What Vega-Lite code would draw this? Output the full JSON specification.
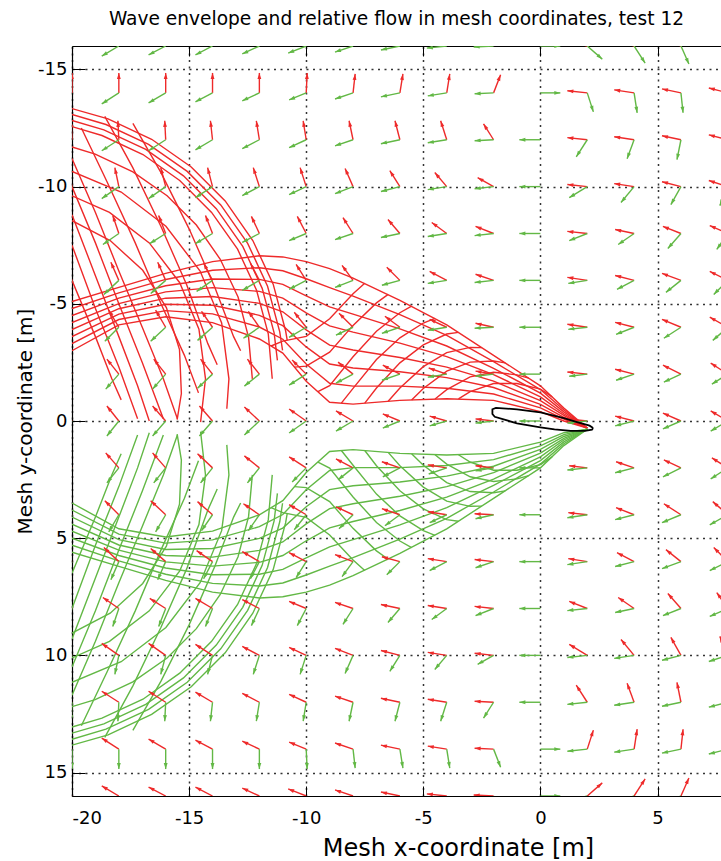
{
"$schema":"https://vega.github.io/schema/vega-lite/v6.json",
"width":649,"height":750,
"autosize":{"type":"none"},
"padding":{"left":72,"top":46,"right":0,"bottom":65},
"title":{"text":"Wave envelope and relative flow in mesh coordinates, test 12","font":"DejaVu Sans","fontSize":18.6,"fontWeight":"normal","color":"#000","anchor":"middle","offset":17},
"config":{"view":{"stroke":null},"font":"DejaVu Sans"},
"datasets":{
"f":[
{"x":-20,"y":-16,"ru":-0.04,"rv":-0.85,"gu":-0.73,"gv":0.43},{"x":-18,"y":-16,"ru":-0.04,"rv":-0.85,"gu":-0.73,"gv":0.43},{"x":-16,"y":-16,"ru":-0.04,"rv":-0.85,"gu":-0.73,"gv":0.38},{"x":-14,"y":-16,"ru":-0.04,"rv":-0.85,"gu":-0.73,"gv":0.38},{"x":-12,"y":-16,"ru":-0.04,"rv":-0.85,"gu":-0.73,"gv":0.34},{"x":-10,"y":-16,"ru":0,"rv":-0.85,"gu":-0.77,"gv":0.30},{"x":-8,"y":-16,"ru":0.04,"rv":-0.85,"gu":-0.77,"gv":0.26},{"x":-6,"y":-16,"ru":0.09,"rv":-0.85,"gu":-0.81,"gv":0.17},{"x":-4,"y":-16,"ru":0.13,"rv":-0.81,"gu":-0.85,"gv":0.09},{"x":-2,"y":-16,"ru":0.30,"rv":-0.77,"gu":-0.85,"gv":0.04},{"x":0,"y":-16,"ru":0.85,"rv":0,"gu":0.85,"gv":0},{"x":2,"y":-16,"ru":-0.81,"rv":-0.21,"gu":0.64,"gv":0.56},{"x":4,"y":-16,"ru":-0.77,"rv":-0.26,"gu":0.47,"gv":0.73},{"x":6,"y":-16,"ru":-0.77,"rv":-0.34,"gu":0.34,"gv":0.77},{"x":8,"y":-16,"ru":-0.73,"rv":-0.38,"gu":0.26,"gv":0.81},
{"x":-20,"y":-14,"ru":0,"rv":-0.85,"gu":-0.73,"gv":0.47},{"x":-18,"y":-14,"ru":0,"rv":-0.85,"gu":-0.73,"gv":0.47},{"x":-16,"y":-14,"ru":0,"rv":-0.85,"gu":-0.73,"gv":0.43},{"x":-14,"y":-14,"ru":0,"rv":-0.85,"gu":-0.73,"gv":0.38},{"x":-12,"y":-14,"ru":0,"rv":-0.85,"gu":-0.73,"gv":0.34},{"x":-10,"y":-14,"ru":0.04,"rv":-0.85,"gu":-0.73,"gv":0.30},{"x":-8,"y":-14,"ru":0.09,"rv":-0.81,"gu":-0.77,"gv":0.26},{"x":-6,"y":-14,"ru":0.13,"rv":-0.81,"gu":-0.81,"gv":0.17},{"x":-4,"y":-14,"ru":0.13,"rv":-0.81,"gu":-0.81,"gv":0.13},{"x":-2,"y":-14,"ru":0.30,"rv":-0.77,"gu":-0.81,"gv":0.04},{"x":0,"y":-14,"ru":0.85,"rv":0,"gu":0.85,"gv":0},{"x":2,"y":-14,"ru":-0.85,"rv":-0.09,"gu":0.26,"gv":0.81},{"x":4,"y":-14,"ru":-0.85,"rv":-0.13,"gu":0.13,"gv":0.85},{"x":6,"y":-14,"ru":-0.81,"rv":-0.17,"gu":0.09,"gv":0.85},{"x":8,"y":-14,"ru":-0.81,"rv":-0.21,"gu":0.04,"gv":0.85},
{"x":-20,"y":-12,"ru":-0.04,"rv":-0.81,"gu":-0.73,"gv":0.51},{"x":-18,"y":-12,"ru":-0.04,"rv":-0.81,"gu":-0.73,"gv":0.47},{"x":-16,"y":-12,"ru":-0.04,"rv":-0.81,"gu":-0.73,"gv":0.47},{"x":-14,"y":-12,"ru":-0.09,"rv":-0.81,"gu":-0.73,"gv":0.43},{"x":-12,"y":-12,"ru":-0.13,"rv":-0.81,"gu":-0.73,"gv":0.38},{"x":-10,"y":-12,"ru":-0.13,"rv":-0.81,"gu":-0.73,"gv":0.34},{"x":-8,"y":-12,"ru":-0.17,"rv":-0.81,"gu":-0.77,"gv":0.26},{"x":-6,"y":-12,"ru":-0.21,"rv":-0.81,"gu":-0.81,"gv":0.17},{"x":-4,"y":-12,"ru":-0.26,"rv":-0.81,"gu":-0.81,"gv":0.13},{"x":-2,"y":-12,"ru":-0.43,"rv":-0.68,"gu":-0.81,"gv":0.04},{"x":0,"y":-12,"ru":-0.9,"rv":0,"gu":-0.9,"gv":0},{"x":2,"y":-12,"ru":-0.85,"rv":-0.09,"gu":-0.47,"gv":0.73},{"x":4,"y":-12,"ru":-0.85,"rv":-0.13,"gu":-0.30,"gv":0.81},{"x":6,"y":-12,"ru":-0.81,"rv":-0.17,"gu":-0.17,"gv":0.85},{"x":8,"y":-12,"ru":-0.81,"rv":-0.21,"gu":-0.13,"gv":0.85},
{"x":-20,"y":-10,"ru":-0.17,"rv":-0.81,"gu":-0.73,"gv":0.56},{"x":-18,"y":-10,"ru":-0.17,"rv":-0.81,"gu":-0.73,"gv":0.51},{"x":-16,"y":-10,"ru":-0.21,"rv":-0.81,"gu":-0.73,"gv":0.51},{"x":-14,"y":-10,"ru":-0.21,"rv":-0.81,"gu":-0.73,"gv":0.47},{"x":-12,"y":-10,"ru":-0.26,"rv":-0.81,"gu":-0.73,"gv":0.38},{"x":-10,"y":-10,"ru":-0.26,"rv":-0.81,"gu":-0.73,"gv":0.34},{"x":-8,"y":-10,"ru":-0.34,"rv":-0.77,"gu":-0.77,"gv":0.30},{"x":-6,"y":-10,"ru":-0.43,"rv":-0.68,"gu":-0.81,"gv":0.21},{"x":-4,"y":-10,"ru":-0.51,"rv":-0.60,"gu":-0.81,"gv":0.13},{"x":-2,"y":-10,"ru":-0.68,"rv":-0.38,"gu":-0.81,"gv":0.09},{"x":0,"y":-10,"ru":-0.9,"rv":0,"gu":-0.9,"gv":0},{"x":2,"y":-10,"ru":-0.85,"rv":-0.09,"gu":-0.77,"gv":0.47},{"x":4,"y":-10,"ru":-0.85,"rv":-0.13,"gu":-0.56,"gv":0.68},{"x":6,"y":-10,"ru":-0.81,"rv":-0.21,"gu":-0.43,"gv":0.77},{"x":8,"y":-10,"ru":-0.81,"rv":-0.26,"gu":-0.34,"gv":0.81},
{"x":-20,"y":-8,"ru":-0.26,"rv":-0.77,"gu":-0.68,"gv":0.51},{"x":-18,"y":-8,"ru":-0.26,"rv":-0.77,"gu":-0.68,"gv":0.47},{"x":-16,"y":-8,"ru":-0.30,"rv":-0.77,"gu":-0.68,"gv":0.43},{"x":-14,"y":-8,"ru":-0.30,"rv":-0.77,"gu":-0.73,"gv":0.43},{"x":-12,"y":-8,"ru":-0.34,"rv":-0.73,"gu":-0.73,"gv":0.38},{"x":-10,"y":-8,"ru":-0.38,"rv":-0.73,"gu":-0.73,"gv":0.30},{"x":-8,"y":-8,"ru":-0.43,"rv":-0.68,"gu":-0.77,"gv":0.26},{"x":-6,"y":-8,"ru":-0.51,"rv":-0.60,"gu":-0.81,"gv":0.17},{"x":-4,"y":-8,"ru":-0.64,"rv":-0.47,"gu":-0.81,"gv":0.13},{"x":-2,"y":-8,"ru":-0.77,"rv":-0.30,"gu":-0.81,"gv":0.09},{"x":0,"y":-8,"ru":-0.9,"rv":0,"gu":-0.9,"gv":0},{"x":2,"y":-8,"ru":-0.85,"rv":-0.09,"gu":-0.77,"gv":0.30},{"x":4,"y":-8,"ru":-0.81,"rv":-0.17,"gu":-0.68,"gv":0.47},{"x":6,"y":-8,"ru":-0.77,"rv":-0.30,"gu":-0.56,"gv":0.64},{"x":8,"y":-8,"ru":-0.77,"rv":-0.34,"gu":-0.47,"gv":0.68},
{"x":-20,"y":-6,"ru":-0.34,"rv":-0.77,"gu":-0.64,"gv":0.60},{"x":-18,"y":-6,"ru":-0.34,"rv":-0.77,"gu":-0.64,"gv":0.60},{"x":-16,"y":-6,"ru":-0.34,"rv":-0.77,"gu":-0.64,"gv":0.56},{"x":-14,"y":-6,"ru":-0.38,"rv":-0.73,"gu":-0.68,"gv":0.47},{"x":-12,"y":-6,"ru":-0.38,"rv":-0.73,"gu":-0.73,"gv":0.43},{"x":-10,"y":-6,"ru":-0.43,"rv":-0.68,"gu":-0.73,"gv":0.38},{"x":-8,"y":-6,"ru":-0.47,"rv":-0.64,"gu":-0.77,"gv":0.30},{"x":-6,"y":-6,"ru":-0.56,"rv":-0.56,"gu":-0.77,"gv":0.21},{"x":-4,"y":-6,"ru":-0.73,"rv":-0.38,"gu":-0.81,"gv":0.13},{"x":-2,"y":-6,"ru":-0.77,"rv":-0.26,"gu":-0.81,"gv":0.09},{"x":0,"y":-6,"ru":-0.9,"rv":0,"gu":-0.9,"gv":0},{"x":2,"y":-6,"ru":-0.85,"rv":-0.13,"gu":-0.81,"gv":0.13},{"x":4,"y":-6,"ru":-0.81,"rv":-0.21,"gu":-0.73,"gv":0.38},{"x":6,"y":-6,"ru":-0.81,"rv":-0.30,"gu":-0.64,"gv":0.51},{"x":8,"y":-6,"ru":-0.77,"rv":-0.38,"gu":-0.60,"gv":0.60},
{"x":-20,"y":-4,"ru":-0.43,"rv":-0.73,"gu":-0.60,"gv":0.60},{"x":-18,"y":-4,"ru":-0.43,"rv":-0.73,"gu":-0.60,"gv":0.60},{"x":-16,"y":-4,"ru":-0.43,"rv":-0.73,"gu":-0.64,"gv":0.60},{"x":-14,"y":-4,"ru":-0.47,"rv":-0.68,"gu":-0.64,"gv":0.56},{"x":-12,"y":-4,"ru":-0.47,"rv":-0.68,"gu":-0.68,"gv":0.47},{"x":-10,"y":-4,"ru":-0.51,"rv":-0.64,"gu":-0.73,"gv":0.43},{"x":-8,"y":-4,"ru":-0.60,"rv":-0.60,"gu":-0.73,"gv":0.34},{"x":-6,"y":-4,"ru":-0.64,"rv":-0.47,"gu":-0.77,"gv":0.26},{"x":-4,"y":-4,"ru":-0.73,"rv":-0.34,"gu":-0.81,"gv":0.13},{"x":-2,"y":-4,"ru":-0.77,"rv":-0.17,"gu":-0.81,"gv":0.04},{"x":0,"y":-4,"ru":-0.9,"rv":0,"gu":-0.9,"gv":0},{"x":2,"y":-4,"ru":-0.85,"rv":-0.13,"gu":-0.81,"gv":0.09},{"x":4,"y":-4,"ru":-0.81,"rv":-0.21,"gu":-0.77,"gv":0.30},{"x":6,"y":-4,"ru":-0.81,"rv":-0.34,"gu":-0.73,"gv":0.47},{"x":8,"y":-4,"ru":-0.77,"rv":-0.43,"gu":-0.64,"gv":0.56},
{"x":-20,"y":-2,"ru":-0.47,"rv":-0.68,"gu":-0.56,"gv":0.64},{"x":-18,"y":-2,"ru":-0.51,"rv":-0.64,"gu":-0.56,"gv":0.64},{"x":-16,"y":-2,"ru":-0.51,"rv":-0.64,"gu":-0.56,"gv":0.64},{"x":-14,"y":-2,"ru":-0.51,"rv":-0.64,"gu":-0.64,"gv":0.60},{"x":-12,"y":-2,"ru":-0.51,"rv":-0.64,"gu":-0.64,"gv":0.51},{"x":-10,"y":-2,"ru":-0.60,"rv":-0.60,"gu":-0.73,"gv":0.47},{"x":-8,"y":-2,"ru":-0.64,"rv":-0.51,"gu":-0.73,"gv":0.38},{"x":-6,"y":-2,"ru":-0.73,"rv":-0.38,"gu":-0.77,"gv":0.26},{"x":-4,"y":-2,"ru":-0.77,"rv":-0.26,"gu":-0.81,"gv":0.13},{"x":-2,"y":-2,"ru":-0.77,"rv":-0.13,"gu":-0.77,"gv":0.09},{"x":0,"y":-2,"ru":-0.9,"rv":0,"gu":-0.9,"gv":0},{"x":2,"y":-2,"ru":-0.85,"rv":-0.09,"gu":-0.77,"gv":0.09},{"x":4,"y":-2,"ru":-0.81,"rv":-0.21,"gu":-0.77,"gv":0.26},{"x":6,"y":-2,"ru":-0.77,"rv":-0.38,"gu":-0.73,"gv":0.34},{"x":8,"y":-2,"ru":-0.73,"rv":-0.47,"gu":-0.68,"gv":0.43},
{"x":-20,"y":0,"ru":-0.51,"rv":-0.64,"gu":-0.51,"gv":0.64},{"x":-18,"y":0,"ru":-0.51,"rv":-0.64,"gu":-0.51,"gv":0.64},{"x":-16,"y":0,"ru":-0.56,"rv":-0.64,"gu":-0.56,"gv":0.64},{"x":-14,"y":0,"ru":-0.56,"rv":-0.64,"gu":-0.56,"gv":0.64},{"x":-12,"y":0,"ru":-0.64,"rv":-0.60,"gu":-0.64,"gv":0.60},{"x":-10,"y":0,"ru":-0.73,"rv":-0.51,"gu":-0.73,"gv":0.51},{"x":-8,"y":0,"ru":-0.73,"rv":-0.43,"gu":-0.73,"gv":0.43},{"x":-6,"y":0,"ru":-0.73,"rv":-0.30,"gu":-0.73,"gv":0.30},{"x":-4,"y":0,"ru":-0.73,"rv":-0.21,"gu":-0.73,"gv":0.21},{"x":-2,"y":0,"ru":-0.77,"rv":-0.09,"gu":-0.77,"gv":0.09},{"x":0,"y":0,"ru":-0.9,"rv":0,"gu":-0.9,"gv":0},{"x":2,"y":0,"ru":-0.85,"rv":-0.09,"gu":-0.85,"gv":0.09},{"x":4,"y":0,"ru":-0.81,"rv":-0.21,"gu":-0.81,"gv":0.21},{"x":6,"y":0,"ru":-0.77,"rv":-0.34,"gu":-0.77,"gv":0.34},{"x":8,"y":0,"ru":-0.73,"rv":-0.43,"gu":-0.73,"gv":0.43},
{"x":-20,"y":2,"ru":-0.56,"rv":-0.64,"gu":-0.47,"gv":0.68},{"x":-18,"y":2,"ru":-0.56,"rv":-0.64,"gu":-0.51,"gv":0.64},{"x":-16,"y":2,"ru":-0.56,"rv":-0.64,"gu":-0.51,"gv":0.64},{"x":-14,"y":2,"ru":-0.64,"rv":-0.60,"gu":-0.51,"gv":0.64},{"x":-12,"y":2,"ru":-0.64,"rv":-0.51,"gu":-0.51,"gv":0.64},{"x":-10,"y":2,"ru":-0.73,"rv":-0.47,"gu":-0.60,"gv":0.60},{"x":-8,"y":2,"ru":-0.73,"rv":-0.38,"gu":-0.64,"gv":0.51},{"x":-6,"y":2,"ru":-0.77,"rv":-0.26,"gu":-0.73,"gv":0.38},{"x":-4,"y":2,"ru":-0.81,"rv":-0.13,"gu":-0.77,"gv":0.26},{"x":-2,"y":2,"ru":-0.77,"rv":-0.09,"gu":-0.77,"gv":0.13},{"x":0,"y":2,"ru":-0.9,"rv":0,"gu":-0.9,"gv":0},{"x":2,"y":2,"ru":-0.77,"rv":-0.09,"gu":-0.85,"gv":0.09},{"x":4,"y":2,"ru":-0.77,"rv":-0.26,"gu":-0.81,"gv":0.21},{"x":6,"y":2,"ru":-0.73,"rv":-0.34,"gu":-0.77,"gv":0.38},{"x":8,"y":2,"ru":-0.68,"rv":-0.43,"gu":-0.73,"gv":0.47},
{"x":-20,"y":4,"ru":-0.60,"rv":-0.60,"gu":-0.43,"gv":0.73},{"x":-18,"y":4,"ru":-0.60,"rv":-0.60,"gu":-0.43,"gv":0.73},{"x":-16,"y":4,"ru":-0.64,"rv":-0.60,"gu":-0.43,"gv":0.73},{"x":-14,"y":4,"ru":-0.64,"rv":-0.56,"gu":-0.47,"gv":0.68},{"x":-12,"y":4,"ru":-0.68,"rv":-0.47,"gu":-0.47,"gv":0.68},{"x":-10,"y":4,"ru":-0.73,"rv":-0.43,"gu":-0.51,"gv":0.64},{"x":-8,"y":4,"ru":-0.73,"rv":-0.34,"gu":-0.60,"gv":0.60},{"x":-6,"y":4,"ru":-0.77,"rv":-0.26,"gu":-0.64,"gv":0.47},{"x":-4,"y":4,"ru":-0.81,"rv":-0.13,"gu":-0.73,"gv":0.34},{"x":-2,"y":4,"ru":-0.81,"rv":-0.04,"gu":-0.77,"gv":0.17},{"x":0,"y":4,"ru":-0.9,"rv":0,"gu":-0.9,"gv":0},{"x":2,"y":4,"ru":-0.81,"rv":-0.09,"gu":-0.85,"gv":0.13},{"x":4,"y":4,"ru":-0.77,"rv":-0.30,"gu":-0.81,"gv":0.21},{"x":6,"y":4,"ru":-0.73,"rv":-0.47,"gu":-0.81,"gv":0.34},{"x":8,"y":4,"ru":-0.64,"rv":-0.56,"gu":-0.77,"gv":0.43},
{"x":-20,"y":6,"ru":-0.64,"rv":-0.60,"gu":-0.34,"gv":0.77},{"x":-18,"y":6,"ru":-0.64,"rv":-0.60,"gu":-0.34,"gv":0.77},{"x":-16,"y":6,"ru":-0.64,"rv":-0.56,"gu":-0.34,"gv":0.77},{"x":-14,"y":6,"ru":-0.68,"rv":-0.47,"gu":-0.38,"gv":0.73},{"x":-12,"y":6,"ru":-0.73,"rv":-0.43,"gu":-0.38,"gv":0.73},{"x":-10,"y":6,"ru":-0.73,"rv":-0.38,"gu":-0.43,"gv":0.68},{"x":-8,"y":6,"ru":-0.77,"rv":-0.30,"gu":-0.47,"gv":0.64},{"x":-6,"y":6,"ru":-0.77,"rv":-0.21,"gu":-0.56,"gv":0.56},{"x":-4,"y":6,"ru":-0.81,"rv":-0.13,"gu":-0.73,"gv":0.38},{"x":-2,"y":6,"ru":-0.81,"rv":-0.09,"gu":-0.77,"gv":0.26},{"x":0,"y":6,"ru":-0.9,"rv":0,"gu":-0.9,"gv":0},{"x":2,"y":6,"ru":-0.81,"rv":-0.13,"gu":-0.85,"gv":0.13},{"x":4,"y":6,"ru":-0.73,"rv":-0.38,"gu":-0.81,"gv":0.21},{"x":6,"y":6,"ru":-0.64,"rv":-0.51,"gu":-0.81,"gv":0.30},{"x":8,"y":6,"ru":-0.60,"rv":-0.60,"gu":-0.77,"gv":0.38},
{"x":-20,"y":8,"ru":-0.68,"rv":-0.51,"gu":-0.26,"gv":0.77},{"x":-18,"y":8,"ru":-0.68,"rv":-0.47,"gu":-0.26,"gv":0.77},{"x":-16,"y":8,"ru":-0.68,"rv":-0.43,"gu":-0.30,"gv":0.77},{"x":-14,"y":8,"ru":-0.73,"rv":-0.43,"gu":-0.30,"gv":0.77},{"x":-12,"y":8,"ru":-0.73,"rv":-0.38,"gu":-0.34,"gv":0.73},{"x":-10,"y":8,"ru":-0.73,"rv":-0.30,"gu":-0.38,"gv":0.73},{"x":-8,"y":8,"ru":-0.77,"rv":-0.26,"gu":-0.43,"gv":0.68},{"x":-6,"y":8,"ru":-0.81,"rv":-0.17,"gu":-0.51,"gv":0.60},{"x":-4,"y":8,"ru":-0.81,"rv":-0.13,"gu":-0.64,"gv":0.47},{"x":-2,"y":8,"ru":-0.81,"rv":-0.09,"gu":-0.77,"gv":0.30},{"x":0,"y":8,"ru":-0.9,"rv":0,"gu":-0.9,"gv":0},{"x":2,"y":8,"ru":-0.77,"rv":-0.30,"gu":-0.85,"gv":0.09},{"x":4,"y":8,"ru":-0.68,"rv":-0.47,"gu":-0.81,"gv":0.17},{"x":6,"y":8,"ru":-0.56,"rv":-0.64,"gu":-0.77,"gv":0.30},{"x":8,"y":8,"ru":-0.47,"rv":-0.68,"gu":-0.77,"gv":0.34},
{"x":-20,"y":10,"ru":-0.73,"rv":-0.56,"gu":-0.17,"gv":0.81},{"x":-18,"y":10,"ru":-0.73,"rv":-0.51,"gu":-0.17,"gv":0.81},{"x":-16,"y":10,"ru":-0.73,"rv":-0.51,"gu":-0.21,"gv":0.81},{"x":-14,"y":10,"ru":-0.73,"rv":-0.47,"gu":-0.21,"gv":0.81},{"x":-12,"y":10,"ru":-0.73,"rv":-0.38,"gu":-0.26,"gv":0.81},{"x":-10,"y":10,"ru":-0.73,"rv":-0.34,"gu":-0.26,"gv":0.81},{"x":-8,"y":10,"ru":-0.77,"rv":-0.30,"gu":-0.34,"gv":0.77},{"x":-6,"y":10,"ru":-0.81,"rv":-0.21,"gu":-0.43,"gv":0.68},{"x":-4,"y":10,"ru":-0.81,"rv":-0.13,"gu":-0.51,"gv":0.60},{"x":-2,"y":10,"ru":-0.81,"rv":-0.09,"gu":-0.68,"gv":0.38},{"x":0,"y":10,"ru":-0.9,"rv":0,"gu":-0.9,"gv":0},{"x":2,"y":10,"ru":-0.77,"rv":-0.47,"gu":-0.85,"gv":0.09},{"x":4,"y":10,"ru":-0.56,"rv":-0.68,"gu":-0.85,"gv":0.13},{"x":6,"y":10,"ru":-0.43,"rv":-0.77,"gu":-0.81,"gv":0.21},{"x":8,"y":10,"ru":-0.34,"rv":-0.81,"gu":-0.81,"gv":0.26},
{"x":-20,"y":12,"ru":-0.73,"rv":-0.51,"gu":-0.04,"gv":0.81},{"x":-18,"y":12,"ru":-0.73,"rv":-0.47,"gu":-0.04,"gv":0.81},{"x":-16,"y":12,"ru":-0.73,"rv":-0.47,"gu":-0.04,"gv":0.81},{"x":-14,"y":12,"ru":-0.73,"rv":-0.43,"gu":-0.09,"gv":0.81},{"x":-12,"y":12,"ru":-0.73,"rv":-0.38,"gu":-0.13,"gv":0.81},{"x":-10,"y":12,"ru":-0.73,"rv":-0.34,"gu":-0.13,"gv":0.81},{"x":-8,"y":12,"ru":-0.77,"rv":-0.26,"gu":-0.17,"gv":0.81},{"x":-6,"y":12,"ru":-0.81,"rv":-0.17,"gu":-0.21,"gv":0.81},{"x":-4,"y":12,"ru":-0.81,"rv":-0.13,"gu":-0.26,"gv":0.81},{"x":-2,"y":12,"ru":-0.81,"rv":-0.04,"gu":-0.43,"gv":0.68},{"x":0,"y":12,"ru":-0.9,"rv":0,"gu":-0.9,"gv":0},{"x":2,"y":12,"ru":-0.47,"rv":-0.73,"gu":-0.85,"gv":0.09},{"x":4,"y":12,"ru":-0.30,"rv":-0.81,"gu":-0.85,"gv":0.13},{"x":6,"y":12,"ru":-0.17,"rv":-0.85,"gu":-0.81,"gv":0.17},{"x":8,"y":12,"ru":-0.13,"rv":-0.85,"gu":-0.81,"gv":0.21},
{"x":-20,"y":14,"ru":-0.73,"rv":-0.47,"gu":0,"gv":0.85},{"x":-18,"y":14,"ru":-0.73,"rv":-0.47,"gu":0,"gv":0.85},{"x":-16,"y":14,"ru":-0.73,"rv":-0.43,"gu":0,"gv":0.85},{"x":-14,"y":14,"ru":-0.73,"rv":-0.38,"gu":0,"gv":0.85},{"x":-12,"y":14,"ru":-0.73,"rv":-0.34,"gu":0,"gv":0.85},{"x":-10,"y":14,"ru":-0.73,"rv":-0.30,"gu":0.04,"gv":0.85},{"x":-8,"y":14,"ru":-0.77,"rv":-0.26,"gu":0.09,"gv":0.81},{"x":-6,"y":14,"ru":-0.81,"rv":-0.17,"gu":0.13,"gv":0.81},{"x":-4,"y":14,"ru":-0.81,"rv":-0.13,"gu":0.13,"gv":0.81},{"x":-2,"y":14,"ru":-0.81,"rv":-0.04,"gu":0.30,"gv":0.77},{"x":0,"y":14,"ru":0.85,"rv":0,"gu":0.85,"gv":0},{"x":2,"y":14,"ru":0.26,"rv":-0.81,"gu":-0.85,"gv":0.09},{"x":4,"y":14,"ru":0.13,"rv":-0.85,"gu":-0.85,"gv":0.13},{"x":6,"y":14,"ru":0.09,"rv":-0.85,"gu":-0.81,"gv":0.17},{"x":8,"y":14,"ru":0.04,"rv":-0.85,"gu":-0.81,"gv":0.21},
{"x":-20,"y":16,"ru":-0.73,"rv":-0.43,"gu":-0.04,"gv":0.85},{"x":-18,"y":16,"ru":-0.73,"rv":-0.43,"gu":-0.04,"gv":0.85},{"x":-16,"y":16,"ru":-0.73,"rv":-0.38,"gu":-0.04,"gv":0.85},{"x":-14,"y":16,"ru":-0.73,"rv":-0.38,"gu":-0.04,"gv":0.85},{"x":-12,"y":16,"ru":-0.73,"rv":-0.34,"gu":-0.04,"gv":0.85},{"x":-10,"y":16,"ru":-0.77,"rv":-0.30,"gu":0,"gv":0.85},{"x":-8,"y":16,"ru":-0.77,"rv":-0.26,"gu":0.04,"gv":0.85},{"x":-6,"y":16,"ru":-0.81,"rv":-0.17,"gu":0.09,"gv":0.85},{"x":-4,"y":16,"ru":-0.85,"rv":-0.09,"gu":0.13,"gv":0.81},{"x":-2,"y":16,"ru":-0.85,"rv":-0.04,"gu":0.30,"gv":0.77},{"x":0,"y":16,"ru":0.85,"rv":0,"gu":0.85,"gv":0},{"x":2,"y":16,"ru":0.64,"rv":-0.56,"gu":-0.81,"gv":0.21},{"x":4,"y":16,"ru":0.47,"rv":-0.73,"gu":-0.77,"gv":0.26},{"x":6,"y":16,"ru":0.34,"rv":-0.77,"gu":-0.77,"gv":0.34},{"x":8,"y":16,"ru":0.26,"rv":-0.81,"gu":-0.73,"gv":0.38}
],
"m":[
{"id":"rL0","c":"r","x":2,"y":0.3},{"id":"rL0","c":"r","x":1,"y":0},{"id":"rL0","c":"r","x":0,"y":-0.4},{"id":"rL0","c":"r","x":-2,"y":-0.88},{"id":"rL0","c":"r","x":-4,"y":-0.95},{"id":"rL0","c":"r","x":-6,"y":-0.88},{"id":"rL0","c":"r","x":-8,"y":-0.72},{"id":"rL0","c":"r","x":-9,"y":-0.8},{"id":"rL0","c":"r","x":-10,"y":-1.7},{"id":"rL0","c":"r","x":-11,"y":-2.9},{"id":"rL0","c":"r","x":-12,"y":-3.5},{"id":"rL0","c":"r","x":-14,"y":-4.2},{"id":"rL0","c":"r","x":-16,"y":-4.45},{"id":"rL0","c":"r","x":-18,"y":-4.1},{"id":"rL0","c":"r","x":-20,"y":-3.0},
{"id":"rL1","c":"r","x":2,"y":0.3},{"id":"rL1","c":"r","x":1,"y":-0.08},{"id":"rL1","c":"r","x":0,"y":-0.56},{"id":"rL1","c":"r","x":-2,"y":-1.15},{"id":"rL1","c":"r","x":-4,"y":-1.4},{"id":"rL1","c":"r","x":-6,"y":-1.49},{"id":"rL1","c":"r","x":-8,"y":-1.49},{"id":"rL1","c":"r","x":-9,"y":-1.61},{"id":"rL1","c":"r","x":-10,"y":-2.43},{"id":"rL1","c":"r","x":-11,"y":-3.49},{"id":"rL1","c":"r","x":-12,"y":-4.01},{"id":"rL1","c":"r","x":-14,"y":-4.57},{"id":"rL1","c":"r","x":-16,"y":-4.71},{"id":"rL1","c":"r","x":-18,"y":-4.33},{"id":"rL1","c":"r","x":-20,"y":-3.3},
{"id":"rL2","c":"r","x":2,"y":0.3},{"id":"rL2","c":"r","x":1,"y":-0.16},{"id":"rL2","c":"r","x":0,"y":-0.71},{"id":"rL2","c":"r","x":-2,"y":-1.43},{"id":"rL2","c":"r","x":-4,"y":-1.85},{"id":"rL2","c":"r","x":-6,"y":-2.1},{"id":"rL2","c":"r","x":-8,"y":-2.26},{"id":"rL2","c":"r","x":-9,"y":-2.43},{"id":"rL2","c":"r","x":-10,"y":-3.16},{"id":"rL2","c":"r","x":-11,"y":-4.07},{"id":"rL2","c":"r","x":-12,"y":-4.51},{"id":"rL2","c":"r","x":-14,"y":-4.94},{"id":"rL2","c":"r","x":-16,"y":-4.98},{"id":"rL2","c":"r","x":-18,"y":-4.56},{"id":"rL2","c":"r","x":-20,"y":-3.6},
{"id":"rL3","c":"r","x":2,"y":0.3},{"id":"rL3","c":"r","x":1,"y":-0.24},{"id":"rL3","c":"r","x":0,"y":-0.87},{"id":"rL3","c":"r","x":-2,"y":-1.7},{"id":"rL3","c":"r","x":-4,"y":-2.3},{"id":"rL3","c":"r","x":-6,"y":-2.71},{"id":"rL3","c":"r","x":-8,"y":-3.03},{"id":"rL3","c":"r","x":-9,"y":-3.24},{"id":"rL3","c":"r","x":-10,"y":-3.89},{"id":"rL3","c":"r","x":-11,"y":-4.66},{"id":"rL3","c":"r","x":-12,"y":-5.02},{"id":"rL3","c":"r","x":-14,"y":-5.31},{"id":"rL3","c":"r","x":-16,"y":-5.24},{"id":"rL3","c":"r","x":-18,"y":-4.79},{"id":"rL3","c":"r","x":-20,"y":-3.9},
{"id":"rL4","c":"r","x":2,"y":0.3},{"id":"rL4","c":"r","x":1,"y":-0.31},{"id":"rL4","c":"r","x":0,"y":-1.03},{"id":"rL4","c":"r","x":-2,"y":-1.98},{"id":"rL4","c":"r","x":-4,"y":-2.75},{"id":"rL4","c":"r","x":-6,"y":-3.32},{"id":"rL4","c":"r","x":-8,"y":-3.79},{"id":"rL4","c":"r","x":-9,"y":-4.06},{"id":"rL4","c":"r","x":-10,"y":-4.61},{"id":"rL4","c":"r","x":-11,"y":-5.24},{"id":"rL4","c":"r","x":-12,"y":-5.53},{"id":"rL4","c":"r","x":-14,"y":-5.69},{"id":"rL4","c":"r","x":-16,"y":-5.51},{"id":"rL4","c":"r","x":-18,"y":-5.01},{"id":"rL4","c":"r","x":-20,"y":-4.2},
{"id":"rL5","c":"r","x":2,"y":0.3},{"id":"rL5","c":"r","x":1,"y":-0.39},{"id":"rL5","c":"r","x":0,"y":-1.19},{"id":"rL5","c":"r","x":-2,"y":-2.25},{"id":"rL5","c":"r","x":-4,"y":-3.2},{"id":"rL5","c":"r","x":-6,"y":-3.93},{"id":"rL5","c":"r","x":-8,"y":-4.56},{"id":"rL5","c":"r","x":-9,"y":-4.87},{"id":"rL5","c":"r","x":-10,"y":-5.34},{"id":"rL5","c":"r","x":-11,"y":-5.83},{"id":"rL5","c":"r","x":-12,"y":-6.04},{"id":"rL5","c":"r","x":-14,"y":-6.06},{"id":"rL5","c":"r","x":-16,"y":-5.77},{"id":"rL5","c":"r","x":-18,"y":-5.24},{"id":"rL5","c":"r","x":-20,"y":-4.5},
{"id":"rL6","c":"r","x":2,"y":0.3},{"id":"rL6","c":"r","x":1,"y":-0.47},{"id":"rL6","c":"r","x":0,"y":-1.34},{"id":"rL6","c":"r","x":-2,"y":-2.53},{"id":"rL6","c":"r","x":-4,"y":-3.65},{"id":"rL6","c":"r","x":-6,"y":-4.54},{"id":"rL6","c":"r","x":-8,"y":-5.33},{"id":"rL6","c":"r","x":-9,"y":-5.69},{"id":"rL6","c":"r","x":-10,"y":-6.07},{"id":"rL6","c":"r","x":-11,"y":-6.41},{"id":"rL6","c":"r","x":-12,"y":-6.54},{"id":"rL6","c":"r","x":-14,"y":-6.43},{"id":"rL6","c":"r","x":-16,"y":-6.04},{"id":"rL6","c":"r","x":-18,"y":-5.47},{"id":"rL6","c":"r","x":-20,"y":-4.8},
{"id":"rL7","c":"r","x":2,"y":0.3},{"id":"rL7","c":"r","x":1,"y":-0.55},{"id":"rL7","c":"r","x":0,"y":-1.5},{"id":"rL7","c":"r","x":-2,"y":-2.8},{"id":"rL7","c":"r","x":-4,"y":-4.1},{"id":"rL7","c":"r","x":-6,"y":-5.15},{"id":"rL7","c":"r","x":-8,"y":-6.1},{"id":"rL7","c":"r","x":-9,"y":-6.5},{"id":"rL7","c":"r","x":-10,"y":-6.8},{"id":"rL7","c":"r","x":-11,"y":-7.0},{"id":"rL7","c":"r","x":-12,"y":-7.05},{"id":"rL7","c":"r","x":-14,"y":-6.8},{"id":"rL7","c":"r","x":-16,"y":-6.3},{"id":"rL7","c":"r","x":-18,"y":-5.7},{"id":"rL7","c":"r","x":-20,"y":-5.1},
{"id":"rDa","c":"r","x":0.5,"y":-1.03},{"id":"rDa","c":"r","x":0,"y":-1.36},{"id":"rDa","c":"r","x":-1,"y":-1.6},{"id":"rDa","c":"r","x":-2,"y":-1.6},{"id":"rDa","c":"r","x":-3,"y":-1.25},{"id":"rDa","c":"r","x":-3.5,"y":-0.94},
{"id":"rDb","c":"r","x":-0.5,"y":-1.83},{"id":"rDb","c":"r","x":-1,"y":-1.97},{"id":"rDb","c":"r","x":-2,"y":-2.08},{"id":"rDb","c":"r","x":-3,"y":-1.88},{"id":"rDb","c":"r","x":-4,"y":-1.34},{"id":"rDb","c":"r","x":-4.5,"y":-0.94},
{"id":"rDc","c":"r","x":-1.5,"y":-2.48},{"id":"rDc","c":"r","x":-2,"y":-2.56},{"id":"rDc","c":"r","x":-3,"y":-2.51},{"id":"rDc","c":"r","x":-4,"y":-2.13},{"id":"rDc","c":"r","x":-5,"y":-1.39},{"id":"rDc","c":"r","x":-5.5,"y":-0.9},
{"id":"rDd","c":"r","x":-2.5,"y":-3.13},{"id":"rDd","c":"r","x":-3,"y":-3.14},{"id":"rDd","c":"r","x":-4,"y":-2.92},{"id":"rDd","c":"r","x":-5,"y":-2.32},{"id":"rDd","c":"r","x":-6,"y":-1.41},{"id":"rDd","c":"r","x":-6.5,"y":-0.84},
{"id":"rDe","c":"r","x":-3.5,"y":-3.78},{"id":"rDe","c":"r","x":-4,"y":-3.71},{"id":"rDe","c":"r","x":-5,"y":-3.25},{"id":"rDe","c":"r","x":-6,"y":-2.48},{"id":"rDe","c":"r","x":-7,"y":-1.41},{"id":"rDe","c":"r","x":-7.5,"y":-0.76},
{"id":"rDf","c":"r","x":-4.5,"y":-4.38},{"id":"rDf","c":"r","x":-5,"y":-4.18},{"id":"rDf","c":"r","x":-6,"y":-3.55},{"id":"rDf","c":"r","x":-7,"y":-2.62},{"id":"rDf","c":"r","x":-8,"y":-1.39},{"id":"rDf","c":"r","x":-8.5,"y":-0.76},
{"id":"rDg","c":"r","x":-5.5,"y":-4.9},{"id":"rDg","c":"r","x":-6,"y":-4.62},{"id":"rDg","c":"r","x":-7,"y":-3.83},{"id":"rDg","c":"r","x":-8,"y":-2.74},{"id":"rDg","c":"r","x":-9,"y":-1.51},{"id":"rDg","c":"r","x":-9.5,"y":-1.25},
{"id":"rDh","c":"r","x":-6.5,"y":-5.4},{"id":"rDh","c":"r","x":-7,"y":-5.04},{"id":"rDh","c":"r","x":-8,"y":-4.08},{"id":"rDh","c":"r","x":-9,"y":-2.94},{"id":"rDh","c":"r","x":-10,"y":-2.34},{"id":"rDh","c":"r","x":-10.5,"y":-2.3},
{"id":"rDi","c":"r","x":-7.5,"y":-5.88},{"id":"rDi","c":"r","x":-8,"y":-5.43},{"id":"rDi","c":"r","x":-9,"y":-4.36},{"id":"rDi","c":"r","x":-10,"y":-3.61},{"id":"rDi","c":"r","x":-11,"y":-3.41},{"id":"rDi","c":"r","x":-11.5,"y":-3.2},
{"id":"rA1","c":"r","x":-20,"y":-13.33},{"id":"rA1","c":"r","x":-18.46,"y":-12.89},{"id":"rA1","c":"r","x":-16.6,"y":-12.02},{"id":"rA1","c":"r","x":-14.91,"y":-10.84},{"id":"rA1","c":"r","x":-13.46,"y":-9.39},{"id":"rA1","c":"r","x":-12.28,"y":-7.7},{"id":"rA1","c":"r","x":-11.41,"y":-5.84},{"id":"rA1","c":"r","x":-10.88,"y":-3.85},{"id":"rA1","c":"r","x":-10.81,"y":-3.44},
{"id":"rA2","c":"r","x":-20,"y":-13.08},{"id":"rA2","c":"r","x":-18.55,"y":-12.65},{"id":"rA2","c":"r","x":-16.73,"y":-11.8},{"id":"rA2","c":"r","x":-15.08,"y":-10.65},{"id":"rA2","c":"r","x":-13.65,"y":-9.22},{"id":"rA2","c":"r","x":-12.5,"y":-7.58},{"id":"rA2","c":"r","x":-11.65,"y":-5.75},{"id":"rA2","c":"r","x":-11.13,"y":-3.8},{"id":"rA2","c":"r","x":-11.01,"y":-3.01},
{"id":"rA3","c":"r","x":-20,"y":-12.82},{"id":"rA3","c":"r","x":-18.64,"y":-12.42},{"id":"rA3","c":"r","x":-16.85,"y":-11.59},{"id":"rA3","c":"r","x":-15.24,"y":-10.46},{"id":"rA3","c":"r","x":-13.84,"y":-9.06},{"id":"rA3","c":"r","x":-12.71,"y":-7.45},{"id":"rA3","c":"r","x":-11.88,"y":-5.66},{"id":"rA3","c":"r","x":-11.37,"y":-3.76},{"id":"rA3","c":"r","x":-11.23,"y":-2.59},
{"id":"rA4","c":"r","x":-20,"y":-12.56},{"id":"rA4","c":"r","x":-18.72,"y":-12.18},{"id":"rA4","c":"r","x":-16.97,"y":-11.37},{"id":"rA4","c":"r","x":-15.4,"y":-10.26},{"id":"rA4","c":"r","x":-14.04,"y":-8.9},{"id":"rA4","c":"r","x":-12.93,"y":-7.33},{"id":"rA4","c":"r","x":-12.12,"y":-5.58},{"id":"rA4","c":"r","x":-11.62,"y":-3.72},{"id":"rA4","c":"r","x":-11.45,"y":-1.8},
{"id":"rA5","c":"r","x":-20,"y":-11.69},{"id":"rA5","c":"r","x":-19.01,"y":-11.39},{"id":"rA5","c":"r","x":-17.4,"y":-10.63},{"id":"rA5","c":"r","x":-15.94,"y":-9.61},{"id":"rA5","c":"r","x":-14.69,"y":-8.36},{"id":"rA5","c":"r","x":-13.67,"y":-6.9},{"id":"rA5","c":"r","x":-12.91,"y":-5.29},{"id":"rA5","c":"r","x":-12.46,"y":-3.57},{"id":"rA5","c":"r","x":-12.3,"y":-1.8},
{"id":"rA6","c":"r","x":-20,"y":-10.65},{"id":"rA6","c":"r","x":-17.9,"y":-9.77},{"id":"rA6","c":"r","x":-15.99,"y":-8.31},{"id":"rA6","c":"r","x":-14.53,"y":-6.4},{"id":"rA6","c":"r","x":-13.61,"y":-4.18},{"id":"rA6","c":"r","x":-13.3,"y":-1.8},{"id":"rA6","c":"r","x":-13.39,"y":-0.52},
{"id":"rA7","c":"r","x":-20,"y":-9.61},{"id":"rA7","c":"r","x":-18.4,"y":-8.9},{"id":"rA7","c":"r","x":-16.7,"y":-7.6},{"id":"rA7","c":"r","x":-15.4,"y":-5.9},{"id":"rA7","c":"r","x":-14.58,"y":-3.92},{"id":"rA7","c":"r","x":-14.3,"y":-1.8},{"id":"rA7","c":"r","x":-14.51,"y":0.05},
{"id":"rA8","c":"r","x":-20,"y":-8.55},{"id":"rA8","c":"r","x":-18.37,"y":-7.7},{"id":"rA8","c":"r","x":-16.98,"y":-6.43},{"id":"rA8","c":"r","x":-15.97,"y":-4.84},{"id":"rA8","c":"r","x":-15.41,"y":-3.05},{"id":"rA8","c":"r","x":-15.33,"y":-1.17},{"id":"rA8","c":"r","x":-15.51,"y":-0.06},
{"id":"rG1","c":"r","x":-20,"y":-6.0},{"id":"rG1","c":"r","x":-19,"y":-3.6},{"id":"rG1","c":"r","x":-18.3,"y":-1.8},{"id":"rG1","c":"r","x":-17.9,"y":-0.9},
{"id":"rG2","c":"r","x":-20,"y":-7.5},{"id":"rG2","c":"r","x":-19,"y":-4.8},{"id":"rG2","c":"r","x":-18,"y":-2.3},{"id":"rG2","c":"r","x":-17.2,"y":-0.1},
{"id":"rG3","c":"r","x":-20,"y":-8.8},{"id":"rG3","c":"r","x":-19,"y":-6.2},{"id":"rG3","c":"r","x":-18,"y":-3.6},{"id":"rG3","c":"r","x":-17.2,"y":-1.5},{"id":"rG3","c":"r","x":-16.7,"y":0.0},
{"id":"rG4","c":"r","x":-20,"y":-10.0},{"id":"rG4","c":"r","x":-19,"y":-7.6},{"id":"rG4","c":"r","x":-18,"y":-5.0},{"id":"rG4","c":"r","x":-17,"y":-2.5},{"id":"rG4","c":"r","x":-16.1,"y":-0.1},
{"id":"rG5","c":"r","x":-20,"y":-11.2},{"id":"rG5","c":"r","x":-19,"y":-8.9},{"id":"rG5","c":"r","x":-18,"y":-6.4},{"id":"rG5","c":"r","x":-17,"y":-4.0},{"id":"rG5","c":"r","x":-16.1,"y":-1.8},{"id":"rG5","c":"r","x":-15.5,"y":-0.1},
{"id":"rG6","c":"r","x":-19.6,"y":-12.5},{"id":"rG6","c":"r","x":-18.5,"y":-10.2},{"id":"rG6","c":"r","x":-17.3,"y":-7.6},{"id":"rG6","c":"r","x":-16.2,"y":-5.0},{"id":"rG6","c":"r","x":-15.2,"y":-2.8},{"id":"rG6","c":"r","x":-14.6,"y":-1.2},
{"id":"rG7","c":"r","x":-18.6,"y":-13.0},{"id":"rG7","c":"r","x":-17.4,"y":-10.8},{"id":"rG7","c":"r","x":-16.2,"y":-8.3},{"id":"rG7","c":"r","x":-15.1,"y":-5.8},{"id":"rG7","c":"r","x":-14.2,"y":-3.3},{"id":"rG7","c":"r","x":-13.8,"y":-2.4},
{"id":"rG8","c":"r","x":-17.4,"y":-12.7},{"id":"rG8","c":"r","x":-16.2,"y":-10.6},{"id":"rG8","c":"r","x":-15.0,"y":-8.2},{"id":"rG8","c":"r","x":-13.9,"y":-5.7},{"id":"rG8","c":"r","x":-13.1,"y":-3.6},{"id":"rG8","c":"r","x":-12.8,"y":-3.0},
{"id":"gL0","c":"g","x":2,"y":0.35},{"id":"gL0","c":"g","x":1,"y":0.5},{"id":"gL0","c":"g","x":0,"y":0.9},{"id":"gL0","c":"g","x":-2,"y":1.38},{"id":"gL0","c":"g","x":-4,"y":1.45},{"id":"gL0","c":"g","x":-6,"y":1.38},{"id":"gL0","c":"g","x":-8,"y":1.22},{"id":"gL0","c":"g","x":-9,"y":1.3},{"id":"gL0","c":"g","x":-10,"y":2.2},{"id":"gL0","c":"g","x":-11,"y":3.4},{"id":"gL0","c":"g","x":-12,"y":4.0},{"id":"gL0","c":"g","x":-14,"y":4.7},{"id":"gL0","c":"g","x":-16,"y":4.95},{"id":"gL0","c":"g","x":-18,"y":4.6},{"id":"gL0","c":"g","x":-20,"y":3.5},
{"id":"gL1","c":"g","x":2,"y":0.35},{"id":"gL1","c":"g","x":1,"y":0.58},{"id":"gL1","c":"g","x":0,"y":1.06},{"id":"gL1","c":"g","x":-2,"y":1.65},{"id":"gL1","c":"g","x":-4,"y":1.9},{"id":"gL1","c":"g","x":-6,"y":1.99},{"id":"gL1","c":"g","x":-8,"y":1.99},{"id":"gL1","c":"g","x":-9,"y":2.11},{"id":"gL1","c":"g","x":-10,"y":2.93},{"id":"gL1","c":"g","x":-11,"y":3.99},{"id":"gL1","c":"g","x":-12,"y":4.51},{"id":"gL1","c":"g","x":-14,"y":5.07},{"id":"gL1","c":"g","x":-16,"y":5.21},{"id":"gL1","c":"g","x":-18,"y":4.83},{"id":"gL1","c":"g","x":-20,"y":3.8},
{"id":"gL2","c":"g","x":2,"y":0.35},{"id":"gL2","c":"g","x":1,"y":0.66},{"id":"gL2","c":"g","x":0,"y":1.21},{"id":"gL2","c":"g","x":-2,"y":1.93},{"id":"gL2","c":"g","x":-4,"y":2.35},{"id":"gL2","c":"g","x":-6,"y":2.6},{"id":"gL2","c":"g","x":-8,"y":2.76},{"id":"gL2","c":"g","x":-9,"y":2.93},{"id":"gL2","c":"g","x":-10,"y":3.66},{"id":"gL2","c":"g","x":-11,"y":4.57},{"id":"gL2","c":"g","x":-12,"y":5.01},{"id":"gL2","c":"g","x":-14,"y":5.44},{"id":"gL2","c":"g","x":-16,"y":5.48},{"id":"gL2","c":"g","x":-18,"y":5.06},{"id":"gL2","c":"g","x":-20,"y":4.1},
{"id":"gL3","c":"g","x":2,"y":0.35},{"id":"gL3","c":"g","x":1,"y":0.74},{"id":"gL3","c":"g","x":0,"y":1.37},{"id":"gL3","c":"g","x":-2,"y":2.2},{"id":"gL3","c":"g","x":-4,"y":2.8},{"id":"gL3","c":"g","x":-6,"y":3.21},{"id":"gL3","c":"g","x":-8,"y":3.53},{"id":"gL3","c":"g","x":-9,"y":3.74},{"id":"gL3","c":"g","x":-10,"y":4.39},{"id":"gL3","c":"g","x":-11,"y":5.16},{"id":"gL3","c":"g","x":-12,"y":5.52},{"id":"gL3","c":"g","x":-14,"y":5.81},{"id":"gL3","c":"g","x":-16,"y":5.74},{"id":"gL3","c":"g","x":-18,"y":5.29},{"id":"gL3","c":"g","x":-20,"y":4.4},
{"id":"gL4","c":"g","x":2,"y":0.35},{"id":"gL4","c":"g","x":1,"y":0.81},{"id":"gL4","c":"g","x":0,"y":1.53},{"id":"gL4","c":"g","x":-2,"y":2.48},{"id":"gL4","c":"g","x":-4,"y":3.25},{"id":"gL4","c":"g","x":-6,"y":3.82},{"id":"gL4","c":"g","x":-8,"y":4.29},{"id":"gL4","c":"g","x":-9,"y":4.56},{"id":"gL4","c":"g","x":-10,"y":5.11},{"id":"gL4","c":"g","x":-11,"y":5.74},{"id":"gL4","c":"g","x":-12,"y":6.03},{"id":"gL4","c":"g","x":-14,"y":6.19},{"id":"gL4","c":"g","x":-16,"y":6.01},{"id":"gL4","c":"g","x":-18,"y":5.51},{"id":"gL4","c":"g","x":-20,"y":4.7},
{"id":"gL5","c":"g","x":2,"y":0.35},{"id":"gL5","c":"g","x":1,"y":0.89},{"id":"gL5","c":"g","x":0,"y":1.69},{"id":"gL5","c":"g","x":-2,"y":2.75},{"id":"gL5","c":"g","x":-4,"y":3.7},{"id":"gL5","c":"g","x":-6,"y":4.43},{"id":"gL5","c":"g","x":-8,"y":5.06},{"id":"gL5","c":"g","x":-9,"y":5.37},{"id":"gL5","c":"g","x":-10,"y":5.84},{"id":"gL5","c":"g","x":-11,"y":6.33},{"id":"gL5","c":"g","x":-12,"y":6.54},{"id":"gL5","c":"g","x":-14,"y":6.56},{"id":"gL5","c":"g","x":-16,"y":6.27},{"id":"gL5","c":"g","x":-18,"y":5.74},{"id":"gL5","c":"g","x":-20,"y":5.0},
{"id":"gL6","c":"g","x":2,"y":0.35},{"id":"gL6","c":"g","x":1,"y":0.97},{"id":"gL6","c":"g","x":0,"y":1.84},{"id":"gL6","c":"g","x":-2,"y":3.03},{"id":"gL6","c":"g","x":-4,"y":4.15},{"id":"gL6","c":"g","x":-6,"y":5.04},{"id":"gL6","c":"g","x":-8,"y":5.83},{"id":"gL6","c":"g","x":-9,"y":6.19},{"id":"gL6","c":"g","x":-10,"y":6.57},{"id":"gL6","c":"g","x":-11,"y":6.91},{"id":"gL6","c":"g","x":-12,"y":7.04},{"id":"gL6","c":"g","x":-14,"y":6.93},{"id":"gL6","c":"g","x":-16,"y":6.54},{"id":"gL6","c":"g","x":-18,"y":5.97},{"id":"gL6","c":"g","x":-20,"y":5.3},
{"id":"gL7","c":"g","x":2,"y":0.35},{"id":"gL7","c":"g","x":1,"y":1.05},{"id":"gL7","c":"g","x":0,"y":2.0},{"id":"gL7","c":"g","x":-2,"y":3.3},{"id":"gL7","c":"g","x":-4,"y":4.6},{"id":"gL7","c":"g","x":-6,"y":5.65},{"id":"gL7","c":"g","x":-8,"y":6.6},{"id":"gL7","c":"g","x":-9,"y":7.0},{"id":"gL7","c":"g","x":-10,"y":7.3},{"id":"gL7","c":"g","x":-11,"y":7.5},{"id":"gL7","c":"g","x":-12,"y":7.55},{"id":"gL7","c":"g","x":-14,"y":7.3},{"id":"gL7","c":"g","x":-16,"y":6.8},{"id":"gL7","c":"g","x":-18,"y":6.2},{"id":"gL7","c":"g","x":-20,"y":5.6},
{"id":"gDa","c":"g","x":0.5,"y":1.53},{"id":"gDa","c":"g","x":0,"y":1.86},{"id":"gDa","c":"g","x":-1,"y":2.1},{"id":"gDa","c":"g","x":-2,"y":2.1},{"id":"gDa","c":"g","x":-3,"y":1.75},{"id":"gDa","c":"g","x":-3.5,"y":1.44},
{"id":"gDb","c":"g","x":-0.5,"y":2.33},{"id":"gDb","c":"g","x":-1,"y":2.47},{"id":"gDb","c":"g","x":-2,"y":2.58},{"id":"gDb","c":"g","x":-3,"y":2.38},{"id":"gDb","c":"g","x":-4,"y":1.84},{"id":"gDb","c":"g","x":-4.5,"y":1.44},
{"id":"gDc","c":"g","x":-1.5,"y":2.98},{"id":"gDc","c":"g","x":-2,"y":3.06},{"id":"gDc","c":"g","x":-3,"y":3.01},{"id":"gDc","c":"g","x":-4,"y":2.63},{"id":"gDc","c":"g","x":-5,"y":1.89},{"id":"gDc","c":"g","x":-5.5,"y":1.4},
{"id":"gDd","c":"g","x":-2.5,"y":3.63},{"id":"gDd","c":"g","x":-3,"y":3.64},{"id":"gDd","c":"g","x":-4,"y":3.42},{"id":"gDd","c":"g","x":-5,"y":2.82},{"id":"gDd","c":"g","x":-6,"y":1.91},{"id":"gDd","c":"g","x":-6.5,"y":1.34},
{"id":"gDe","c":"g","x":-3.5,"y":4.28},{"id":"gDe","c":"g","x":-4,"y":4.21},{"id":"gDe","c":"g","x":-5,"y":3.75},{"id":"gDe","c":"g","x":-6,"y":2.98},{"id":"gDe","c":"g","x":-7,"y":1.91},{"id":"gDe","c":"g","x":-7.5,"y":1.26},
{"id":"gDf","c":"g","x":-4.5,"y":4.88},{"id":"gDf","c":"g","x":-5,"y":4.68},{"id":"gDf","c":"g","x":-6,"y":4.05},{"id":"gDf","c":"g","x":-7,"y":3.12},{"id":"gDf","c":"g","x":-8,"y":1.89},{"id":"gDf","c":"g","x":-8.5,"y":1.26},
{"id":"gDg","c":"g","x":-5.5,"y":5.4},{"id":"gDg","c":"g","x":-6,"y":5.12},{"id":"gDg","c":"g","x":-7,"y":4.33},{"id":"gDg","c":"g","x":-8,"y":3.24},{"id":"gDg","c":"g","x":-9,"y":2.01},{"id":"gDg","c":"g","x":-9.5,"y":1.75},
{"id":"gDh","c":"g","x":-6.5,"y":5.9},{"id":"gDh","c":"g","x":-7,"y":5.54},{"id":"gDh","c":"g","x":-8,"y":4.58},{"id":"gDh","c":"g","x":-9,"y":3.44},{"id":"gDh","c":"g","x":-10,"y":2.84},{"id":"gDh","c":"g","x":-10.5,"y":2.8},
{"id":"gDi","c":"g","x":-7.5,"y":6.38},{"id":"gDi","c":"g","x":-8,"y":5.93},{"id":"gDi","c":"g","x":-9,"y":4.86},{"id":"gDi","c":"g","x":-10,"y":4.11},{"id":"gDi","c":"g","x":-11,"y":3.91},{"id":"gDi","c":"g","x":-11.5,"y":3.7},
{"id":"gA1","c":"g","x":-20,"y":13.83},{"id":"gA1","c":"g","x":-18.46,"y":13.39},{"id":"gA1","c":"g","x":-16.6,"y":12.52},{"id":"gA1","c":"g","x":-14.91,"y":11.34},{"id":"gA1","c":"g","x":-13.46,"y":9.89},{"id":"gA1","c":"g","x":-12.28,"y":8.2},{"id":"gA1","c":"g","x":-11.41,"y":6.34},{"id":"gA1","c":"g","x":-10.88,"y":4.35},{"id":"gA1","c":"g","x":-10.81,"y":3.94},
{"id":"gA2","c":"g","x":-20,"y":13.58},{"id":"gA2","c":"g","x":-18.55,"y":13.15},{"id":"gA2","c":"g","x":-16.73,"y":12.3},{"id":"gA2","c":"g","x":-15.08,"y":11.15},{"id":"gA2","c":"g","x":-13.65,"y":9.72},{"id":"gA2","c":"g","x":-12.5,"y":8.08},{"id":"gA2","c":"g","x":-11.65,"y":6.25},{"id":"gA2","c":"g","x":-11.13,"y":4.3},{"id":"gA2","c":"g","x":-11.01,"y":3.51},
{"id":"gA3","c":"g","x":-20,"y":13.32},{"id":"gA3","c":"g","x":-18.64,"y":12.92},{"id":"gA3","c":"g","x":-16.85,"y":12.09},{"id":"gA3","c":"g","x":-15.24,"y":10.96},{"id":"gA3","c":"g","x":-13.84,"y":9.56},{"id":"gA3","c":"g","x":-12.71,"y":7.95},{"id":"gA3","c":"g","x":-11.88,"y":6.16},{"id":"gA3","c":"g","x":-11.37,"y":4.26},{"id":"gA3","c":"g","x":-11.23,"y":3.09},
{"id":"gA4","c":"g","x":-20,"y":13.06},{"id":"gA4","c":"g","x":-18.72,"y":12.68},{"id":"gA4","c":"g","x":-16.97,"y":11.87},{"id":"gA4","c":"g","x":-15.4,"y":10.76},{"id":"gA4","c":"g","x":-14.04,"y":9.4},{"id":"gA4","c":"g","x":-12.93,"y":7.83},{"id":"gA4","c":"g","x":-12.12,"y":6.08},{"id":"gA4","c":"g","x":-11.62,"y":4.22},{"id":"gA4","c":"g","x":-11.45,"y":2.3},
{"id":"gA5","c":"g","x":-20,"y":12.19},{"id":"gA5","c":"g","x":-19.01,"y":11.89},{"id":"gA5","c":"g","x":-17.4,"y":11.13},{"id":"gA5","c":"g","x":-15.94,"y":10.11},{"id":"gA5","c":"g","x":-14.69,"y":8.86},{"id":"gA5","c":"g","x":-13.67,"y":7.4},{"id":"gA5","c":"g","x":-12.91,"y":5.79},{"id":"gA5","c":"g","x":-12.46,"y":4.07},{"id":"gA5","c":"g","x":-12.3,"y":2.3},
{"id":"gA6","c":"g","x":-20,"y":11.15},{"id":"gA6","c":"g","x":-17.9,"y":10.27},{"id":"gA6","c":"g","x":-15.99,"y":8.81},{"id":"gA6","c":"g","x":-14.53,"y":6.9},{"id":"gA6","c":"g","x":-13.61,"y":4.68},{"id":"gA6","c":"g","x":-13.3,"y":2.3},{"id":"gA6","c":"g","x":-13.39,"y":1.02},
{"id":"gA7","c":"g","x":-20,"y":10.11},{"id":"gA7","c":"g","x":-18.4,"y":9.4},{"id":"gA7","c":"g","x":-16.7,"y":8.1},{"id":"gA7","c":"g","x":-15.4,"y":6.4},{"id":"gA7","c":"g","x":-14.58,"y":4.42},{"id":"gA7","c":"g","x":-14.3,"y":2.3},{"id":"gA7","c":"g","x":-14.51,"y":0.45},
{"id":"gA8","c":"g","x":-20,"y":9.05},{"id":"gA8","c":"g","x":-18.37,"y":8.2},{"id":"gA8","c":"g","x":-16.98,"y":6.93},{"id":"gA8","c":"g","x":-15.97,"y":5.34},{"id":"gA8","c":"g","x":-15.41,"y":3.55},{"id":"gA8","c":"g","x":-15.33,"y":1.67},{"id":"gA8","c":"g","x":-15.51,"y":0.56},
{"id":"gG1","c":"g","x":-20,"y":6.5},{"id":"gG1","c":"g","x":-19,"y":4.1},{"id":"gG1","c":"g","x":-18.3,"y":2.3},{"id":"gG1","c":"g","x":-17.9,"y":1.4},
{"id":"gG2","c":"g","x":-20,"y":8.0},{"id":"gG2","c":"g","x":-19,"y":5.3},{"id":"gG2","c":"g","x":-18,"y":2.8},{"id":"gG2","c":"g","x":-17.2,"y":0.6},
{"id":"gG3","c":"g","x":-20,"y":9.3},{"id":"gG3","c":"g","x":-19,"y":6.7},{"id":"gG3","c":"g","x":-18,"y":4.1},{"id":"gG3","c":"g","x":-17.2,"y":2.0},{"id":"gG3","c":"g","x":-16.7,"y":0.5},
{"id":"gG4","c":"g","x":-20,"y":10.5},{"id":"gG4","c":"g","x":-19,"y":8.1},{"id":"gG4","c":"g","x":-18,"y":5.5},{"id":"gG4","c":"g","x":-17,"y":3.0},{"id":"gG4","c":"g","x":-16.1,"y":0.6},
{"id":"gG5","c":"g","x":-20,"y":11.7},{"id":"gG5","c":"g","x":-19,"y":9.4},{"id":"gG5","c":"g","x":-18,"y":6.9},{"id":"gG5","c":"g","x":-17,"y":4.5},{"id":"gG5","c":"g","x":-16.1,"y":2.3},{"id":"gG5","c":"g","x":-15.5,"y":0.6},
{"id":"gG6","c":"g","x":-19.6,"y":13.0},{"id":"gG6","c":"g","x":-18.5,"y":10.7},{"id":"gG6","c":"g","x":-17.3,"y":8.1},{"id":"gG6","c":"g","x":-16.2,"y":5.5},{"id":"gG6","c":"g","x":-15.2,"y":3.3},{"id":"gG6","c":"g","x":-14.6,"y":1.7},
{"id":"gG7","c":"g","x":-18.6,"y":13.5},{"id":"gG7","c":"g","x":-17.4,"y":11.3},{"id":"gG7","c":"g","x":-16.2,"y":8.8},{"id":"gG7","c":"g","x":-15.1,"y":6.3},{"id":"gG7","c":"g","x":-14.2,"y":3.8},{"id":"gG7","c":"g","x":-13.8,"y":2.9},
{"id":"gG8","c":"g","x":-17.4,"y":13.2},{"id":"gG8","c":"g","x":-16.2,"y":11.1},{"id":"gG8","c":"g","x":-15.0,"y":8.7},{"id":"gG8","c":"g","x":-13.9,"y":6.2},{"id":"gG8","c":"g","x":-13.1,"y":4.1},{"id":"gG8","c":"g","x":-12.8,"y":3.5}
],
"h":[
{"x":2.25,"y":0.3},{"x":2.1,"y":0.2},{"x":1.6,"y":0.06},{"x":1.0,"y":-0.12},{"x":0,"y":-0.37},{"x":-1,"y":-0.5},{"x":-1.9,"y":-0.56},{"x":-2.05,"y":-0.5},{"x":-2.05,"y":-0.3},{"x":-1.95,"y":-0.18},{"x":-1.0,"y":0.1},{"x":0,"y":0.27},{"x":0.6,"y":0.36},{"x":1.3,"y":0.42},{"x":1.9,"y":0.42},{"x":2.2,"y":0.37},{"x":2.25,"y":0.3}
]
},
"layer":[
{"data":{"name":"m"},
 "mark":{"type":"line","order":false,"strokeWidth":1.4,"clip":true},
 "encoding":{
  "x":{"field":"x","type":"quantitative","scale":{"domain":[-20,7.71],"nice":false,"zero":false},
   "axis":{"orient":"bottom","values":[-20,-15,-10,-5,0,5],"labelExpr":"toString(datum.value)","grid":true,"gridDash":[2,4.5],"gridColor":"#333","gridWidth":1.5,"tickSize":-10,"tickColor":"#000","domainColor":"#000","domainWidth":1.2,"labelFont":"DejaVu Sans","labelFontSize":18,"labelColor":"#000","labelPadding":23,"title":"Mesh x-coordinate [m]","titleFont":"DejaVu Sans","titleFontSize":24,"titleFontWeight":"normal","titleColor":"#000","titleX":386,"titleY":52,"titleBaseline":"middle","titleAlign":"center"}},
  "y":{"field":"y","type":"quantitative","scale":{"domain":[-16,16],"reverse":true,"nice":false,"zero":false},
   "axis":{"orient":"left","values":[-15,-10,-5,0,5,10,15],"labelExpr":"toString(datum.value)","grid":true,"gridDash":[2,4.5],"gridColor":"#333","gridWidth":1.5,"tickSize":-13,"tickColor":"#000","domainColor":"#000","domainWidth":1.2,"labelFont":"DejaVu Sans","labelFontSize":18,"labelColor":"#000","labelPadding":18,"title":"Mesh y-coordinate [m]","titleFont":"DejaVu Sans","titleFontSize":20,"titleFontWeight":"normal","titleColor":"#000","titleX":-47,"titleY":375,"titleBaseline":"middle","titleAlign":"center","titleAngle":-90}},
  "color":{"field":"c","type":"nominal","scale":{"domain":["r","g"],"range":["#ee2a2a","#62b845"]},"legend":null},
  "detail":{"field":"id","type":"nominal"}
 }},
{"data":{"name":"f"},
 "transform":[{"filter":"datum.x != 0"},{"calculate":"datum.x + datum.ru","as":"x2"},{"calculate":"datum.y + datum.rv","as":"y2"}],
 "mark":{"type":"rule","color":"#ee2a2a","strokeWidth":1.4,"clip":true},
 "encoding":{
  "x":{"field":"x","type":"quantitative","scale":{"domain":[-20,7.71],"nice":false,"zero":false},"axis":null},
  "y":{"field":"y","type":"quantitative","scale":{"domain":[-16,16],"reverse":true,"nice":false,"zero":false},"axis":null},
  "x2":{"field":"x2"},"y2":{"field":"y2"}}},
{"data":{"name":"f"},
 "transform":[{"filter":"datum.x != 0"},{"calculate":"datum.x + datum.ru","as":"x2"},{"calculate":"datum.y + datum.rv","as":"y2"},{"calculate":"atan2(datum.ru, -datum.rv) * 180 / PI","as":"a"}],
 "mark":{"type":"point","shape":"M0,0L-0.7,2.2L0.7,2.2Z","filled":true,"size":30,"color":"#ee2a2a","opacity":1,"strokeWidth":0,"clip":true},
 "encoding":{
  "x":{"field":"x2","type":"quantitative","scale":{"domain":[-20,7.71],"nice":false,"zero":false},"axis":null},
  "y":{"field":"y2","type":"quantitative","scale":{"domain":[-16,16],"reverse":true,"nice":false,"zero":false},"axis":null},
  "angle":{"field":"a","type":"quantitative","scale":null}}},
{"data":{"name":"f"},
 "transform":[{"calculate":"datum.x + datum.gu","as":"x2"},{"calculate":"datum.y + datum.gv","as":"y2"}],
 "mark":{"type":"rule","color":"#62b845","strokeWidth":1.4,"clip":true},
 "encoding":{
  "x":{"field":"x","type":"quantitative","scale":{"domain":[-20,7.71],"nice":false,"zero":false},"axis":null},
  "y":{"field":"y","type":"quantitative","scale":{"domain":[-16,16],"reverse":true,"nice":false,"zero":false},"axis":null},
  "x2":{"field":"x2"},"y2":{"field":"y2"}}},
{"data":{"name":"f"},
 "transform":[{"calculate":"datum.x + datum.gu","as":"x2"},{"calculate":"datum.y + datum.gv","as":"y2"},{"calculate":"atan2(datum.gu, -datum.gv) * 180 / PI","as":"a"}],
 "mark":{"type":"point","shape":"M0,0L-0.7,2.2L0.7,2.2Z","filled":true,"size":30,"color":"#62b845","opacity":1,"strokeWidth":0,"clip":true},
 "encoding":{
  "x":{"field":"x2","type":"quantitative","scale":{"domain":[-20,7.71],"nice":false,"zero":false},"axis":null},
  "y":{"field":"y2","type":"quantitative","scale":{"domain":[-16,16],"reverse":true,"nice":false,"zero":false},"axis":null},
  "angle":{"field":"a","type":"quantitative","scale":null}}},
{"data":{"name":"h"},
 "mark":{"type":"line","order":false,"color":"#000","strokeWidth":1.8,"clip":true},
 "encoding":{
  "x":{"field":"x","type":"quantitative","scale":{"domain":[-20,7.71],"nice":false,"zero":false},
   "axis":{"orient":"top","values":[-20,-15,-10,-5,0,5],"labels":false,"grid":false,"tickSize":-10,"tickColor":"#000","domainColor":"#000","domainWidth":1.2,"title":null}},
  "y":{"field":"y","type":"quantitative","scale":{"domain":[-16,16],"reverse":true,"nice":false,"zero":false},"axis":null}}}
],
"resolve":{"axis":{"x":"independent","y":"independent"}}
}
